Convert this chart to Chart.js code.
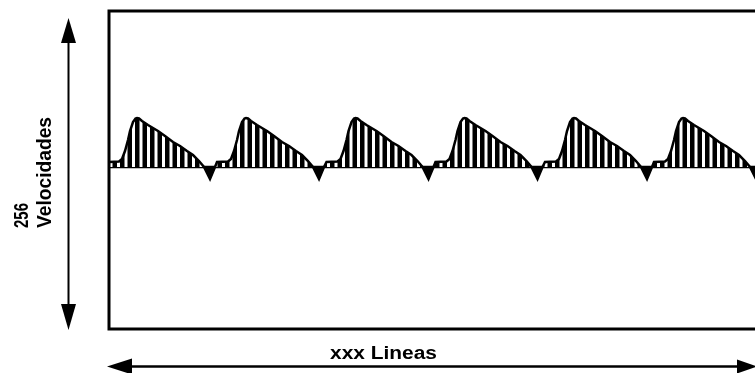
<!DOCTYPE html>
<html>
<head>
<meta charset="utf-8">
<script src="https://cdn.jsdelivr.net/npm/chart.js@4.4.0/dist/chart.umd.min.js"></script>
<style>
  html, body { margin: 0; padding: 0; background: #fff; }
  canvas { display: block; }
</style>
</head>
<body>
<canvas id="c" width="755" height="373"></canvas>
<script>
// ---- data (x in "lines" units from the left frame, y = velocity offset from the mid line) ----
const waveX = [
  -2, -1, 10, 13, 16, 19, 21, 24, 26.5, 28, 30, 33, 39, 49, 56, 64, 71, 78, 84, 90, 95, 101, 106,
  108, 119, 122, 125, 128, 130, 133, 135.5, 137, 139, 142, 148, 158, 165, 173, 180, 187, 193, 199, 204, 210, 215,
  217.5, 228.5, 231.5, 234.5, 237.5, 239.5, 242.5, 245, 246.5, 248.5, 251.5, 257.5, 267.5, 274.5, 282.5, 289.5, 296.5, 302.5, 308.5, 313.5, 319.5, 324.5,
  326.5, 337.5, 340.5, 343.5, 346.5, 348.5, 351.5, 354, 355.5, 357.5, 360.5, 366.5, 376.5, 383.5, 391.5, 398.5, 405.5, 411.5, 417.5, 422.5, 428.5, 433.5,
  436, 447, 450, 453, 456, 458, 461, 463.5, 465, 467, 470, 476, 486, 493, 501, 508, 515, 521, 527, 532, 538, 543,
  545, 556, 559, 562, 565, 567, 570, 572.5, 574, 576, 579, 585, 595, 602, 610, 617, 624, 630, 636, 641, 647, 652
];
const waveY = [
  0, 5, 5.5, 8, 16, 27, 36, 45, 48.5, 49, 48.5, 46, 42, 36, 31, 25, 21, 16, 12, 6, 0, -12, 0,
  5, 5.5, 8, 16, 27, 36, 45, 48.5, 49, 48.5, 46, 42, 36, 31, 25, 21, 16, 12, 6, 0, -12, 0,
  5, 5.5, 8, 16, 27, 36, 45, 48.5, 49, 48.5, 46, 42, 36, 31, 25, 21, 16, 12, 6, 0, -12, 0,
  5, 5.5, 8, 16, 27, 36, 45, 48.5, 49, 48.5, 46, 42, 36, 31, 25, 21, 16, 12, 6, 0, -12, 0,
  5, 5.5, 8, 16, 27, 36, 45, 48.5, 49, 48.5, 46, 42, 36, 31, 25, 21, 16, 12, 6, 0, -12, 0,
  5, 5.5, 8, 16, 27, 36, 45, 48.5, 49, 48.5, 46, 42, 36, 31, 25, 21, 16, 12, 6, 0, -12, 0
];
const baselineX = [0, 646];
const baselineY = [0, 0];
const xRange = [0, 646];
const yRange = [-162, 156];
const yLabelLines = ["256", "Velocidades"];
const xLabel = "xxx Lineas";

// ---- hatch pattern (vertical stripes) ----
function makeHatch() {
  const t = document.createElement('canvas');
  t.width = 15; t.height = 4;
  const g = t.getContext('2d');
  g.fillStyle = '#fff';
  g.fillRect(0, 0, 15, 4);
  g.fillStyle = '#000';
  g.fillRect(0, 0, 4.5, 4);
  g.fillRect(7.5, 0, 4.5, 4);
  return g.createPattern(t, 'repeat');
}

const ctx0 = document.getElementById('c').getContext('2d');
const hatch = makeHatch();

const framePlugin = {
  id: 'frame',
  afterDraw(chart) {
    const ctx = chart.ctx;
    const a = chart.chartArea;
    ctx.save();
    ctx.strokeStyle = '#000';
    ctx.fillStyle = '#000';
    // frame: left, top, bottom (right edge runs off the page)
    ctx.lineWidth = 3;
    ctx.beginPath();
    ctx.moveTo(chart.width + 2, a.top);
    ctx.lineTo(a.left, a.top);
    ctx.lineTo(a.left, a.bottom);
    ctx.lineTo(chart.width + 2, a.bottom);
    ctx.stroke();

    // vertical double arrow
    const ax = 68.5;
    ctx.lineWidth = 2;
    ctx.beginPath();
    ctx.moveTo(ax, 38); ctx.lineTo(ax, 308);
    ctx.stroke();
    ctx.beginPath();
    ctx.moveTo(ax, 18); ctx.lineTo(ax - 7.5, 43); ctx.lineTo(ax + 7.5, 43); ctx.closePath();
    ctx.fill();
    ctx.beginPath();
    ctx.moveTo(ax, 330); ctx.lineTo(ax - 7.5, 304); ctx.lineTo(ax + 7.5, 304); ctx.closePath();
    ctx.fill();

    // horizontal double arrow
    const ay = 366.5;
    ctx.lineWidth = 2.5;
    ctx.beginPath();
    ctx.moveTo(125, ay); ctx.lineTo(742, ay);
    ctx.stroke();
    ctx.beginPath();
    ctx.moveTo(107, ay); ctx.lineTo(132, ay - 8); ctx.lineTo(132, ay + 8); ctx.closePath();
    ctx.fill();
    ctx.beginPath();
    ctx.moveTo(757, ay); ctx.lineTo(737, ay - 7); ctx.lineTo(737, ay + 7); ctx.closePath();
    ctx.fill();

    // texts
    const fam = '"Liberation Sans", Arial, sans-serif';
    function fitText(txt, x, y, rot, size, targetW) {
      ctx.save();
      ctx.translate(x, y);
      ctx.rotate(rot);
      ctx.font = 'bold ' + size + 'px ' + fam;
      ctx.textAlign = 'left';
      ctx.textBaseline = 'alphabetic';
      const w = ctx.measureText(txt).width;
      ctx.scale(targetW / w, 1);
      ctx.fillText(txt, 0, 0);
      ctx.restore();
    }
    fitText(yLabelLines[0], 28, 228, -Math.PI / 2, 21, 25);
    fitText(yLabelLines[1], 51, 228, -Math.PI / 2, 21, 111);
    fitText(xLabel, 330, 359, 0, 18, 107);
    ctx.restore();
  }
};

new Chart(ctx0, {
  type: 'line',
  data: {
    datasets: [
      {
        data: waveX.map((x, i) => ({ x: x, y: waveY[i] })),
        borderColor: '#000',
        borderWidth: 2.5,
        pointRadius: 0,
        tension: 0,
        fill: { target: { value: 0 }, above: hatch, below: '#000' }
      },
      {
        data: baselineX.map((x, i) => ({ x: x, y: baselineY[i] })),
        borderColor: '#000',
        borderWidth: 2.5,
        pointRadius: 0,
        fill: false
      }
    ]
  },
  options: {
    responsive: false,
    animation: false,
    events: [],
    layout: { padding: { left: 109, top: 11, right: 0, bottom: 44 } },
    plugins: { legend: { display: false }, tooltip: { enabled: false } },
    scales: {
      x: { type: 'linear', display: false, min: xRange[0], max: xRange[1] },
      y: { type: 'linear', display: false, min: yRange[0], max: yRange[1] }
    }
  },
  plugins: [framePlugin]
});
</script>
</body>
</html>
